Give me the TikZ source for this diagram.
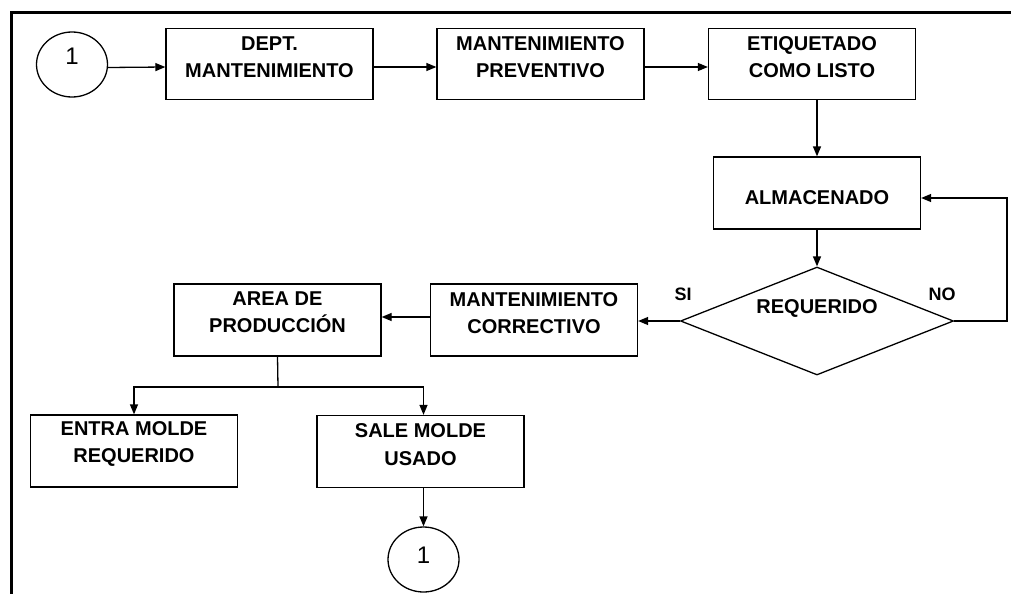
\documentclass[tikz,border=0pt]{standalone}
\usepackage{fontspec}
\setmainfont{Liberation Sans}
\usetikzlibrary{arrows.meta,shapes.geometric}
\begin{document}
\begin{tikzpicture}[x=1pt,y=-1pt,
  box/.style={draw=black, line width=1.3pt, minimum width=207pt, minimum height=71pt, inner sep=0pt},
  lbl/.style={font=\bfseries\fontsize{20}{27.5}\selectfont, align=center, inner sep=0pt},
  yn/.style={font=\bfseries\fontsize{18}{20}\selectfont, inner sep=0pt},
  num/.style={font=\fontsize{24}{26}\selectfont, inner sep=0pt},
  circ/.style={draw=black, line width=1.3pt, ellipse, minimum width=71pt, minimum height=65pt, inner sep=0pt},
  decision/.style={draw=black, line width=1.3pt, diamond, minimum width=273pt, minimum height=108pt, inner sep=0pt},
  arr/.style={line width=1.3pt, -{Triangle[length=10pt,width=8pt]}},
  ln/.style={line width=1.3pt}]
\useasboundingbox (0,0) rectangle (1011,594);
% frame
\draw[line width=3pt] (1011,12.5) -- (11.5,12.5) -- (11.5,594);

% shapes
\node[circ] (c1) at (72,64.5) {};
\node[num] (c1t) at ([yshift=8pt]c1.center) {1};
\node[box] (dept) at (269.5,64) {};
\node[lbl] (deptt) at ([yshift=7pt]dept.center) {DEPT.\\MANTENIMIENTO};
\node[box] (mp) at (540.5,64) {};
\node[lbl] (mpt) at ([yshift=7pt]mp.center) {MANTENIMIENTO\\PREVENTIVO};
\node[box] (etq) at (812,64) {};
\node[lbl] (etqt) at ([yshift=7pt]etq.center) {ETIQUETADO\\COMO LISTO};
\node[box, minimum height=72pt] (alm) at (817,193) {};
\node[lbl] (almt) at ([yshift=-5pt]alm.center) {ALMACENADO};
\node[decision] (dia) at (817,321) {};
\node[lbl] (diat) at (817,308) {REQUERIDO};
\node[yn] (si) at (683,294) {SI};
\node[yn] (no) at (942,294) {NO};
\node[box, minimum height=72pt] (mc) at (534,320) {};
\node[lbl] (mct) at ([yshift=7pt]mc.center) {MANTENIMIENTO\\CORRECTIVO};
\node[box, minimum height=72pt] (area) at (277.5,320) {};
\node[lbl] (areat) at ([yshift=8pt]area.center) {AREA DE\\PRODUCCIÓN};
\node[box, minimum height=72pt] (entra) at (134,451) {};
\node[lbl] (entrat) at ([yshift=7pt]entra.center) {ENTRA MOLDE\\REQUERIDO};
\node[box, minimum height=72pt] (sale) at (420.5,451.5) {};
\node[lbl] (salet) at ([yshift=7pt]sale.center) {SALE MOLDE\\USADO};
\node[circ] (c2) at (423.5,559.5) {};
\node[num] (c2t) at ([yshift=4pt]c2.center) {1};

% connectors
\draw[arr] ([yshift=-3pt]c1.east) -- ([yshift=-3pt]dept.west);
\draw[arr] ([yshift=-3pt]dept.east) -- ([yshift=-3pt]mp.west);
\draw[arr] ([yshift=-3pt]mp.east) -- ([yshift=-3pt]etq.west);
\draw[arr] (alm.north |- etq.south) -- (alm.north);
\draw[arr] (alm.south) -- (dia.north);
\draw[arr] (dia.west) -- (dia.west -| mc.east);
\draw[arr] ([yshift=3pt]mc.west) -- ([yshift=3pt]area.east);
\coordinate (nocorner) at (1007,198);
\draw[arr] (dia.east) -| (nocorner) -- (nocorner -| alm.east);
\coordinate (split) at (278,387);
\draw[ln] (area.south) -- (split);
\draw[arr] (split) -| (entra.north);
\draw[arr] (split) -| (c2.north |- sale.north);
\draw[arr] (c2.north |- sale.south) -- (c2.north);
\end{tikzpicture}
\end{document}
